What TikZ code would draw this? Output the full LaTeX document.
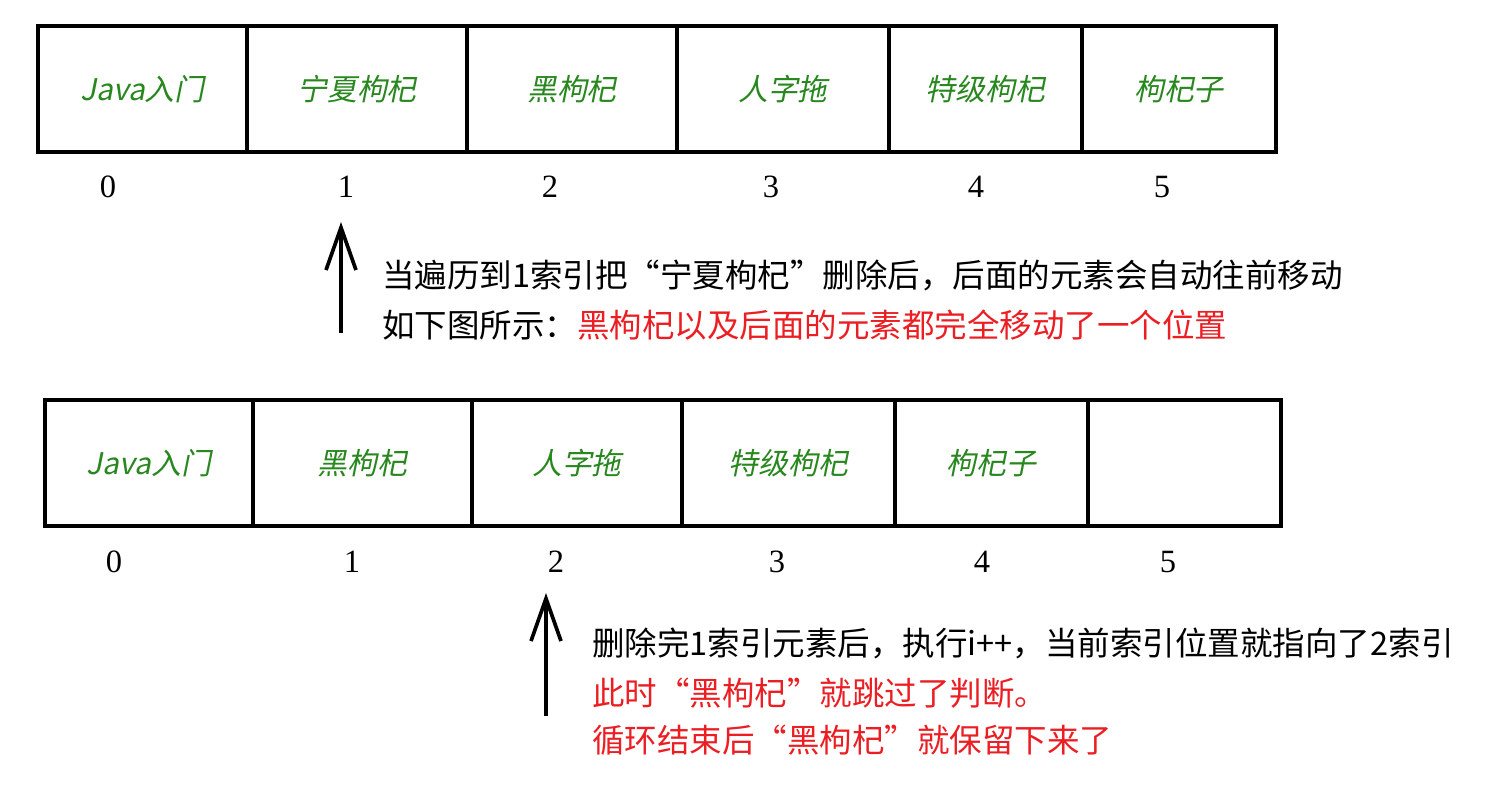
\documentclass[tikz,border=0pt]{standalone}
\usepackage{fontspec}
\setmainfont{Liberation Serif}
\newfontfamily\cjk{Noto Sans CJK SC}
\newfontfamily\cjkit[FakeSlant=0.2]{Noto Sans CJK SC}
\usetikzlibrary{arrows.meta,positioning}
\definecolor{cellgreen}{RGB}{40,135,30}
\definecolor{notered}{RGB}{235,30,35}

\begin{document}
\begin{tikzpicture}[
    x=0.02cm, y=-0.02cm,
    cell/.style={rectangle, draw, line width=2.8pt, minimum height=2.52cm,
                 inner sep=0pt, text=cellgreen, font=\cjkit\fontsize{17}{19}\selectfont},
    idx/.style={font=\fontsize{18.5}{20}\selectfont},
    note/.style={anchor=west, inner sep=0pt, font=\cjk\fontsize{18.5}{22}\selectfont},
    up/.style={-{Straight Barb[length=0.85cm,width=0.6cm]}, line width=2.1pt}
  ]
    \useasboundingbox (0,0) rectangle (1499,794);

    % before removal
    \node[cell, minimum width=4.18cm] (t0) at (142.5,89) {Java入门};
    \node[cell, minimum width=4.40cm] (t1) at (357,89)   {宁夏枸杞};
    \node[cell, minimum width=4.20cm] (t2) at (572,89)   {黑枸杞};
    \node[cell, minimum width=4.24cm] (t3) at (783,89)   {人字拖};
    \node[cell, minimum width=3.86cm] (t4) at (985.5,89) {特级枸杞};
    \node[cell, minimum width=3.88cm] (t5) at (1179,89)  {枸杞子};

    \node[idx] (ti0) at (108,187)  {0};
    \node[idx] (ti1) at (346,187)  {1};
    \node[idx] (ti2) at (550,187)  {2};
    \node[idx] (ti3) at (771,187)  {3};
    \node[idx] (ti4) at (976,187)  {4};
    \node[idx] (ti5) at (1162,187) {5};

    \coordinate (ta) at (341,333);
    \coordinate (tb) at (341,222);
    \draw[up] (ta) -- (tb);

    \node[note] (n1) at (382,275) {当遍历到1索引把“宁夏枸杞”删除后，后面的元素会自动往前移动};
    \node[note] (n2) at (382,325) {如下图所示：\textcolor{notered}{黑枸杞以及后面的元素都完全移动了一个位置}};

    % after removal
    \node[cell, minimum width=4.16cm] (b0) at (149,463)    {Java入门};
    \node[cell, minimum width=4.38cm] (b1) at (362.5,463)  {黑枸杞};
    \node[cell, minimum width=4.20cm] (b2) at (577,463)    {人字拖};
    \node[cell, minimum width=4.26cm] (b3) at (788.5,463)  {特级枸杞};
    \node[cell, minimum width=3.86cm] (b4) at (991.5,463)  {枸杞子};
    \node[cell, minimum width=3.86cm] (b5) at (1184.5,463) {};

    \node[idx] (bi0) at (114,562)  {0};
    \node[idx] (bi1) at (352,562)  {1};
    \node[idx] (bi2) at (556,562)  {2};
    \node[idx] (bi3) at (777,562)  {3};
    \node[idx] (bi4) at (982,562)  {4};
    \node[idx] (bi5) at (1168,562) {5};

    \coordinate (ba) at (546,716);
    \coordinate (bb) at (546,593);
    \draw[up] (ba) -- (bb);

    \node[note] (n3) at (592,643) {删除完1索引元素后，执行i++，当前索引位置就指向了2索引};
    \node[note, text=notered] (n4) at (592,693) {此时“黑枸杞”就跳过了判断。};
    \node[note, text=notered] (n5) at (592,740) {循环结束后“黑枸杞”就保留下来了};
  \end{tikzpicture}
\end{document}
